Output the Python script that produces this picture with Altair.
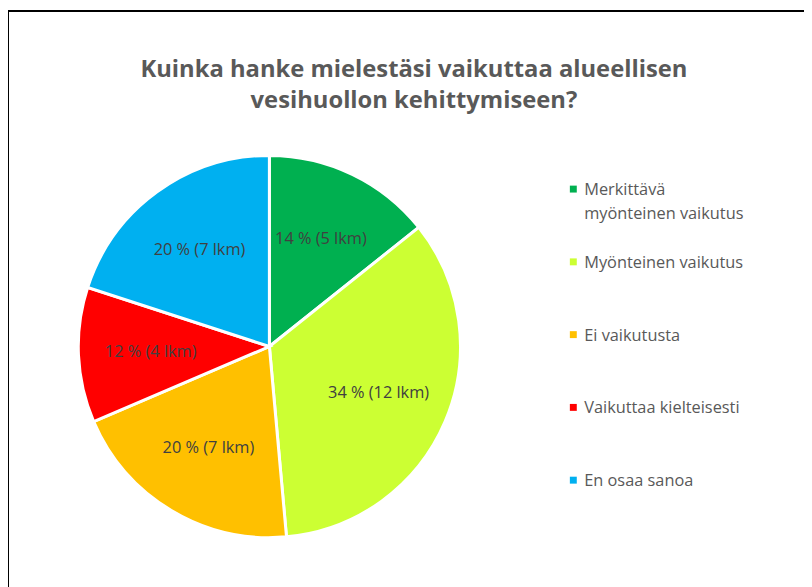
import altair as alt
import pandas as pd

categories = ["Merkittävä myönteinen vaikutus", "Myönteinen vaikutus", "Ei vaikutusta",
              "Vaikuttaa kielteisesti", "En osaa sanoa"]
legend_labels = ["Merkittävä\nmyönteinen vaikutus", "Myönteinen vaikutus", "Ei vaikutusta",
                 "Vaikuttaa kielteisesti", "En osaa sanoa"]
counts = [5, 12, 7, 4, 7]
percents = [14, 34, 20, 12, 20]
colors = ["#00B050", "#CCFF33", "#FFC000", "#FF0000", "#00B0F0"]

df = pd.DataFrame({
    "cat": categories,
    "legend": legend_labels,
    "n": counts,
    "pct": percents,
    "order": list(range(len(categories))),
})
df["label"] = [f"{p} % ({n} lkm)" for p, n in zip(percents, counts)]

W, H = 804, 579
CX, CY, R = 264, 339, 193
FONT = "Open Sans"

color_scale = alt.Scale(domain=categories, range=colors)

base = alt.Chart(df).encode(
    theta=alt.Theta("n:Q", stack=True),
    order=alt.Order("order:Q"),
)

pie = base.mark_arc(stroke="white", strokeWidth=3, radius=R).encode(
    x=alt.value(CX), y=alt.value(CY),
    color=alt.Color("cat:N", scale=color_scale, legend=None),
)

text = base.mark_text(radius=120, font=FONT, fontSize=16.5, color="#404040").encode(
    x=alt.value(CX), y=alt.value(CY), text="label:N"
)

ly = alt.Y("cat:N", sort=categories, axis=None,
           scale=alt.Scale(type="point", domain=categories, range=[180, 474], padding=0))

leg_sym = alt.Chart(df).mark_square(size=49, opacity=1).encode(
    x=alt.value(571), y=ly,
    color=alt.Color("cat:N", scale=color_scale, legend=None),
)
leg_txt = alt.Chart(df).mark_text(
    align="left", baseline="alphabetic", dy=6, lineBreak="\n", lineHeight=24,
    font=FONT, fontSize=16.5, color="#595959",
).encode(x=alt.value(582), y=ly, text="legend:N")

frame = alt.Chart(df).mark_rule(color="black", strokeWidth=2).encode(
    x=alt.value(0), y=alt.value(0), x2=alt.value(W + 10), y2=alt.value(0)
)
frame2 = alt.Chart(df).mark_rule(color="black", strokeWidth=2).encode(
    x=alt.value(0), y=alt.value(0), x2=alt.value(0), y2=alt.value(H + 10)
)

chart = alt.layer(pie, text, leg_sym, leg_txt, frame, frame2).properties(
    width=W, height=H,
    autosize=alt.AutoSizeParams(type="none"),
    padding=0,
    title=alt.TitleParams(
        ["Kuinka hanke mielestäsi vaikuttaa alueellisen", "vesihuollon kehittymiseen?"],
        font=FONT, fontSize=24, fontWeight="bold", color="#595959",
        anchor="middle", dx=8, offset=-104, lineHeight=31, orient="top",
    ),
).configure_view(stroke=None)

chart.save("out.html", embed_options={"renderer": "svg", "actions": False})
